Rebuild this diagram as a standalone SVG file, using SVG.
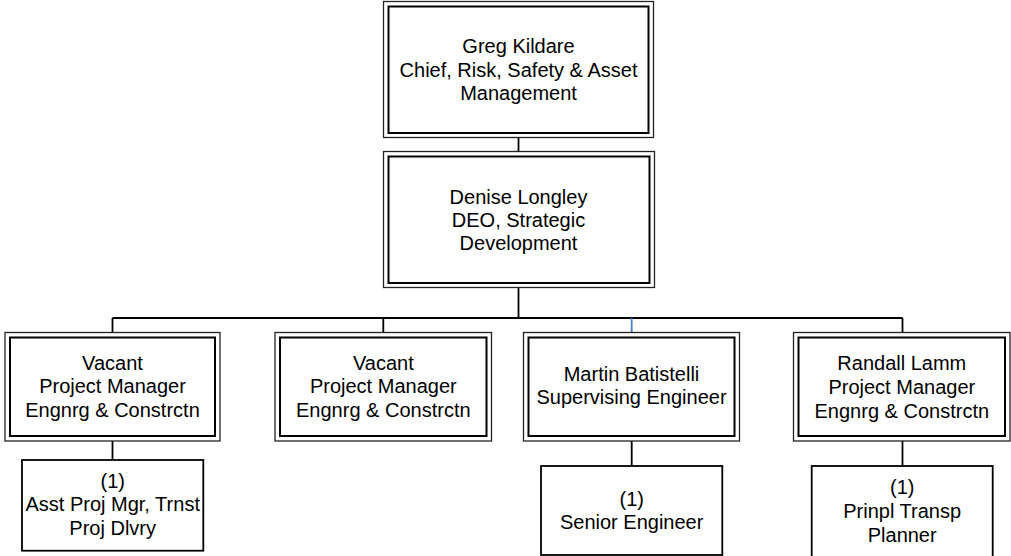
<svg xmlns="http://www.w3.org/2000/svg" width="1011" height="556" viewBox="0 0 1011 556">
<style>
text{font-family:"Liberation Sans",Arial,sans-serif;font-size:20px;fill:#000;text-anchor:middle}
.o{fill:#fff;stroke:#222;stroke-width:1.3}
.i{fill:none;stroke:#000;stroke-width:2}
.s{fill:#fff;stroke:#000;stroke-width:1.8}
.c{fill:none;stroke:#000;stroke-width:1.8}
</style>
<rect width="1011" height="556" fill="#fff"/>
<g id="connectors">
<path class="c" d="M518.5 137.5V151.5M518.5 287.5V318M112.5 318H902.5M112.5 318V332.5M383.3 318V332.5M902.5 318V332.5"/>
<path d="M631.7 318V332.5" fill="none" stroke="#4a7fcf" stroke-width="1.8"/>
<path class="c" d="M112.5 441V460M631.7 441V466M902.5 441V466"/>
</g>
<g id="greg">
<rect class="o" x="383.5" y="1.5" width="270" height="136"/>
<rect class="i" x="388.5" y="6.5" width="260" height="126.5"/>
<text x="518.5" y="53">Greg Kildare</text>
<text x="518.5" y="76.5">Chief, Risk, Safety &amp; Asset</text>
<text x="518.5" y="100">Management</text>
</g>
<g id="denise">
<rect class="o" x="383.5" y="151.5" width="271" height="136"/>
<rect class="i" x="388.5" y="156.5" width="261" height="126.5"/>
<text x="518.5" y="204">Denise Longley</text>
<text x="518.5" y="227">DEO, Strategic</text>
<text x="518.5" y="250">Development</text>
</g>
<g id="vacant1">
<rect class="o" x="5" y="332.5" width="215" height="108.5"/>
<rect class="i" x="10" y="337.5" width="205" height="98.5"/>
<text x="112.5" y="369.5">Vacant</text>
<text x="112.5" y="393.3">Project Manager</text>
<text x="112.5" y="417">Engnrg &amp; Constrctn</text>
</g>
<g id="vacant2">
<rect class="o" x="275" y="332.5" width="216.5" height="108.5"/>
<rect class="i" x="280" y="337.5" width="206.5" height="98.5"/>
<text x="383.3" y="369.5">Vacant</text>
<text x="383.3" y="393.3">Project Manager</text>
<text x="383.3" y="417">Engnrg &amp; Constrctn</text>
</g>
<g id="martin">
<rect class="o" x="523.5" y="332.5" width="216" height="108.5"/>
<rect class="i" x="528.5" y="337.5" width="206" height="98.5"/>
<text x="631.5" y="380.5">Martin Batistelli</text>
<text x="631.5" y="404.3">Supervising Engineer</text>
</g>
<g id="randall">
<rect class="o" x="793.5" y="332.5" width="216.5" height="108.5"/>
<rect class="i" x="798.5" y="337.5" width="206.5" height="98.5"/>
<text x="901.8" y="370">Randall Lamm</text>
<text x="901.8" y="394">Project Manager</text>
<text x="901.8" y="417.5">Engnrg &amp; Constrctn</text>
</g>
<g id="asst">
<rect class="s" x="22" y="460" width="181.3" height="90.7"/>
<text x="112.7" y="487.5">(1)</text>
<text x="112.7" y="511">Asst Proj Mgr, Trnst</text>
<text x="112.7" y="535">Proj Dlvry</text>
</g>
<g id="senior">
<rect class="s" x="541" y="466" width="181.3" height="89"/>
<text x="631.7" y="505.5">(1)</text>
<text x="631.7" y="529.3">Senior Engineer</text>
</g>
<g id="prinpl">
<rect class="s" x="811.7" y="466" width="181" height="100"/>
<text x="902.2" y="493.5">(1)</text>
<text x="902.2" y="517.5">Prinpl Transp</text>
<text x="902.2" y="541.7">Planner</text>
</g>
</svg>
